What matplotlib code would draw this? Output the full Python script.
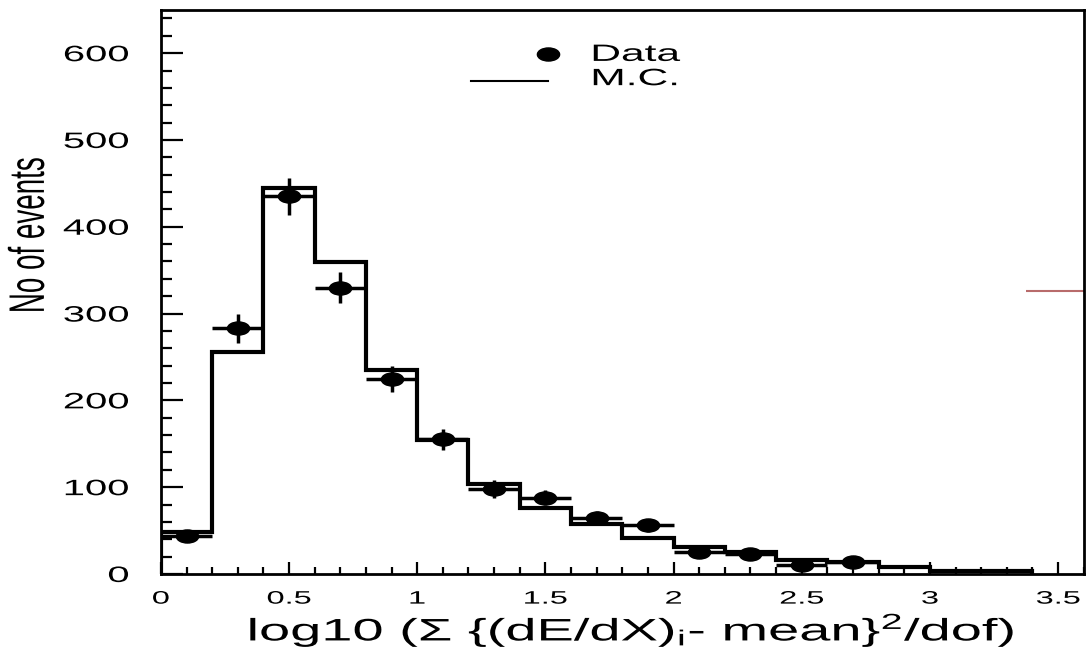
#!/usr/bin/env python3
"""dE/dX chi2 distribution: data points vs M.C. histogram."""
import numpy as np
import matplotlib
matplotlib.use("Agg")
import matplotlib.pyplot as plt
from matplotlib.patheffects import AbstractPathEffect
from matplotlib.transforms import Affine2D
from matplotlib.path import Path

plt.rcParams["font.family"] = ["Liberation Sans", "DejaVu Sans"]
plt.rcParams["mathtext.fontset"] = "custom"
plt.rcParams["mathtext.rm"] = "Liberation Sans"
plt.rcParams["mathtext.it"] = "Liberation Sans:italic"

# bin edges (log10 chi2/dof), width 0.2
edges = [0.0, 0.2, 0.4, 0.6, 0.8, 1.0, 1.2, 1.4, 1.6, 1.8, 2.0,
         2.2, 2.4, 2.6, 2.8, 3.0, 3.2, 3.4]
mc_counts = [48, 256, 445, 359, 235, 154, 104, 76, 57, 41,
             31, 25, 16, 14, 8, 3, 3]

data_x = [0.1, 0.3, 0.5, 0.7, 0.9, 1.1, 1.3, 1.5, 1.7, 1.9, 2.1, 2.3, 2.5, 2.7]
data_y = [44, 283, 435, 330, 225, 155, 98, 88, 64, 56, 25, 23, 10, 14]
data_err = [7, 17, 21, 18, 15, 12, 10, 9, 8, 7.5, 5, 5, 3, 4]
half_bin = 0.1

# stray red segment at the right edge of the frame
stray_y = 326
stray_x = (3.375, 3.6)

SX = 1.8  # the original canvas is stretched horizontally


class Stretch(AbstractPathEffect):
    """Scale a text path horizontally around one of its edges."""

    def __init__(self, sx=SX, anchor="center"):
        super().__init__()
        self.sx = sx
        self.anchor = anchor

    def draw_path(self, renderer, gc, tpath, affine, rgbFace=None):
        ext = tpath.get_extents(affine)
        cx = {"left": ext.x0, "right": ext.x1}.get(self.anchor, 0.5 * (ext.x0 + ext.x1))
        aff = affine + Affine2D().translate(-cx, 0).scale(self.sx, 1).translate(cx, 0)
        renderer.draw_path(gc, tpath, aff, rgbFace)


# squashed circle like the original markers
ellipse = Path(Affine2D().scale(1.7, 1.0).transform(Path.unit_circle().vertices),
               Path.unit_circle().codes)

fig = plt.figure(figsize=(10.87, 6.5), dpi=100)
ax = fig.add_axes([0.148, 0.117, 0.849, 0.868])

ax.stairs(mc_counts, edges, color="black", lw=3)
ax.errorbar(data_x, data_y, yerr=data_err, xerr=half_bin, fmt="none",
            ecolor="black", elinewidth=2.5, capsize=0)
ax.plot(data_x, data_y, ls="none", marker=ellipse, ms=16, color="black")
ax.hlines(stray_y, *stray_x, color="#b86b6b", lw=1.5)

ax.set_xlim(0, 3.6)
ax.set_ylim(0, 650)
ax.set_xticks(np.arange(0, 3.51, 0.5))
ax.set_xticklabels(["0", "0.5", "1", "1.5", "2", "2.5", "3", "3.5"])
ax.set_xticks(np.arange(0, 3.61, 0.1), minor=True)
ax.set_yticks(np.arange(0, 601, 100))
ax.set_yticks(np.arange(0, 641, 20), minor=True)

ax.tick_params(axis="both", which="both", direction="in", width=1.6,
               top=False, right=False)
ax.tick_params(axis="x", which="major", length=9, pad=12, labelsize=13)
ax.tick_params(axis="x", which="minor", length=5)
ax.tick_params(axis="y", which="major", length=16, pad=23, labelsize=16)
ax.tick_params(axis="y", which="minor", length=8)
for s in ax.spines.values():
    s.set_linewidth(2)
for t in ax.xaxis.get_major_ticks():
    t.label1.set_path_effects([Stretch()])
for t in ax.yaxis.get_major_ticks():
    t.label1.set_path_effects([Stretch(anchor="right")])

xl = ax.set_xlabel("log10 (Σ {(dE/dX)$_{\\mathrm{i}}$- mean}$^{2}$/dof)", fontsize=22.4)
xl.set_path_effects([Stretch()])
ax.xaxis.set_label_coords(0.51, -0.066)
yl = ax.set_ylabel("No of events", fontsize=20)
yl.set_path_effects([Stretch(anchor="right")])
ax.yaxis.set_label_coords(-0.12, 0.6)

# legend drawn in axes fraction
ax.plot([0.420], [0.922], ls="none", marker=ellipse, ms=16, color="black",
        transform=ax.transAxes)
ax.plot([0.336, 0.419], [0.874, 0.874], color="black", lw=1.5,
        transform=ax.transAxes)
for y, txt in ((0.920, "Data"), (0.877, "M.C.")):
    t = ax.text(0.467, y, txt, transform=ax.transAxes, fontsize=17,
                va="center", ha="left")
    t.set_path_effects([Stretch(anchor="left")])

fig.savefig("out.png", dpi=100)
